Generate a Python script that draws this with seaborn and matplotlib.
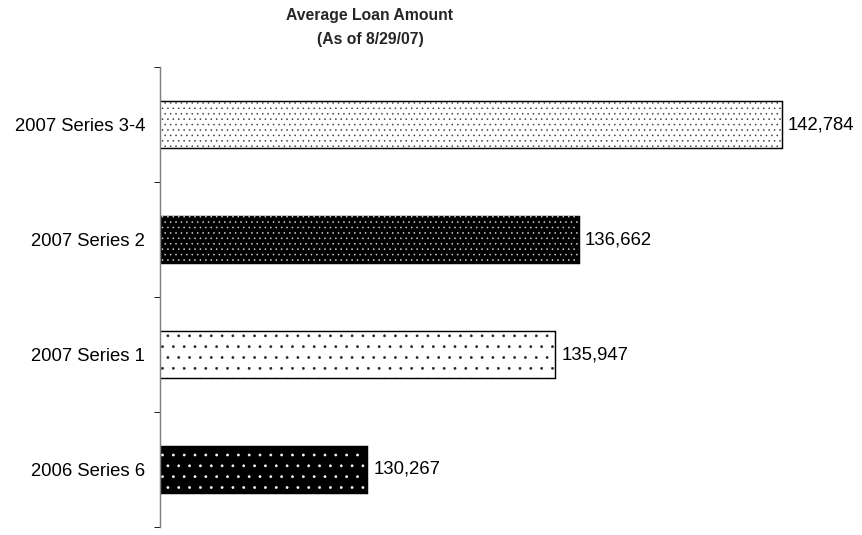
import matplotlib
matplotlib.use("Agg")
import matplotlib.pyplot as plt
import seaborn as sns
import pandas as pd
from matplotlib.ticker import FixedLocator

# data
series = ["2007 Series 3-4", "2007 Series 2", "2007 Series 1", "2006 Series 6"]
avg_loan = [142784, 136662, 135947, 130267]

# look of each bar: fill colour, dot colour, dot density
face_colors = ["white", "black", "white", "black"]
dot_colors = ["#3a3a3a", "#d8d8d8", "#222222", "#ffffff"]
hatches = ["..", "..", ".", "."]

df = pd.DataFrame({"series": series, "amount": avg_loan})

# low dpi so matplotlib's hatch tile (1 inch) gives the right dot spacing
DPI = 65
W, H = 862, 535

sns.set_theme(style="white")
plt.rcParams["font.family"] = ["Liberation Sans", "DejaVu Sans"]
plt.rcParams["hatch.linewidth"] = 0.6

fig = plt.figure(figsize=(W / DPI, H / DPI), dpi=DPI)
ax = fig.add_axes([160 / W, 1 - 527 / H, (822 - 160) / W, 460 / H])

# base layer: filled bars with black outline
sns.barplot(data=df, x="amount", y="series", hue="series", palette=face_colors,
            legend=False, width=0.41, errorbar=None, orient="h",
            edgecolor="black", linewidth=1.6, ax=ax)
n_base = len(ax.patches)
base_containers = list(ax.containers)

# top layer: the dot pattern
sns.barplot(data=df, x="amount", y="series", hue="series", palette=face_colors,
            legend=False, width=0.41, errorbar=None, orient="h", ax=ax)
for p, dc, h in zip(ax.patches[n_base:], dot_colors, hatches):
    p.set_facecolor("none")
    p.set_edgecolor(dc)
    p.set_linewidth(0)
    p.set_hatch(h)

ax.set_xlim(124000, 144000)
ax.set_ylim(3.5, -0.5)

for cont, v in zip(base_containers, avg_loan):
    ax.bar_label(cont, labels=[f"{v:,}"], padding=6.5, fontsize=20.5,
                 color="black")

# axes styling
for side in ["top", "right", "bottom"]:
    ax.spines[side].set_visible(False)
ax.spines["left"].set_color("#808080")
ax.spines["left"].set_linewidth(1.6)
ax.set_xticks([])
ax.set_xlabel("")
ax.set_ylabel("")
ax.tick_params(axis="y", which="major", length=0, pad=16.5, labelsize=20.5,
               labelcolor="black")
ax.yaxis.set_minor_locator(FixedLocator([-0.5, 0.5, 1.5, 2.5, 3.5]))
ax.tick_params(axis="y", which="minor", left=True, length=6.5, width=1.1,
               color="#222222")

fig.text(370 / W, 1 - 8 / H, "Average Loan Amount\n(As of 8/29/07)",
         ha="center", va="top", fontsize=17.5, fontweight="bold",
         linespacing=1.75)

fig.savefig("out.png", dpi=DPI)
